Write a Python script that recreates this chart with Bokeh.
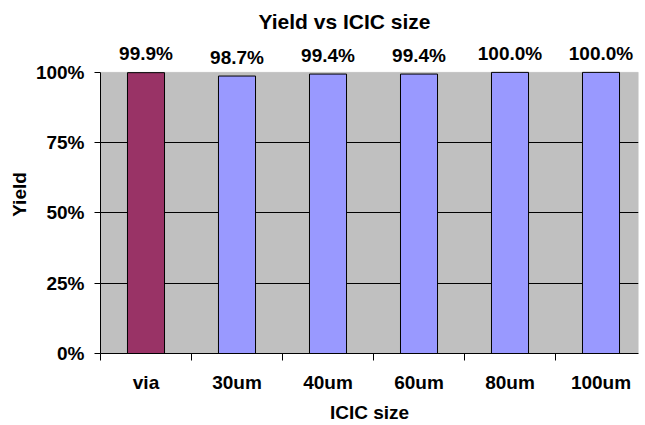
from bokeh.plotting import figure
from bokeh.models import ColumnDataSource, FixedTicker, NumeralTickFormatter, Range1d, BoxAnnotation
from bokeh.core.properties import value
from bokeh.embed import file_html
from bokeh.resources import INLINE

categories = ["via", "30um", "40um", "60um", "80um", "100um"]
yields = [0.999, 0.987, 0.994, 0.994, 1.000, 1.000]
labels = ["99.9%", "98.7%", "99.4%", "99.4%", "100.0%", "100.0%"]
colors = ["#993366", "#9999FF", "#9999FF", "#9999FF", "#9999FF", "#9999FF"]
y_ticks = [0, 0.25, 0.5, 0.75, 1.0]

FONT = "Liberation Sans"
xs = list(range(len(categories)))
src = ColumnDataSource(dict(x=xs, y=yields, lab=labels, color=colors))

# frame: x 100..638, y 35..354 (0% at 354, 100% at 72)
p = figure(width=645, height=425, output_backend="svg", toolbar_location=None,
           x_range=Range1d(-0.5, 5.412), y_range=Range1d(0, 1.1312),
           min_border_left=100, min_border_right=7, min_border_top=35, min_border_bottom=71)
p.background_fill_color = "white"
p.border_fill_color = "white"
p.outline_line_color = None

p.title.text = "Yield vs ICIC size"
p.title.align = "left"
p.title.offset = 158
p.title.standoff = 5
p.title.text_font = FONT
p.title.text_font_size = "21px"
p.title.text_font_style = "bold"
p.title.text_color = "black"

p.add_layout(BoxAnnotation(bottom=0, top=1, fill_color="#C0C0C0", fill_alpha=1,
                           line_color="#808080", line_width=1, level="image"))

p.vbar(x="x", top="y", bottom=0, width=0.407, fill_color="color", line_color="black", line_width=1, source=src)

p.text(x="x", y="y", text="lab", source=src, text_align="center", text_baseline="alphabetic",
       y_offset=-19, text_font=value(FONT), text_font_size="19px", text_font_style="bold", text_color="black")

p.xaxis.ticker = FixedTicker(ticks=xs, minor_ticks=[i - 0.5 for i in range(len(categories) + 1)])
p.xaxis.major_label_overrides = {i: c for i, c in enumerate(categories)}
p.xaxis.major_tick_line_color = None
p.xaxis.minor_tick_line_color = "black"
p.xaxis.minor_tick_out = 7
p.xaxis.minor_tick_in = 0
p.xaxis.major_label_standoff = 11
p.xaxis.axis_label = "ICIC size"
p.xaxis.axis_label_standoff = 6

p.yaxis.ticker = FixedTicker(ticks=y_ticks)
p.yaxis.bounds = (0, 1)
p.yaxis.formatter = NumeralTickFormatter(format="0%")
p.yaxis.major_tick_out = 6
p.yaxis.major_tick_in = 0
p.yaxis.minor_tick_line_color = None
p.yaxis.major_label_standoff = 10
p.yaxis.axis_label = "Yield"
p.yaxis.axis_label_standoff = 3

for ax in (p.xaxis, p.yaxis):
    ax.axis_line_color = "black"
    ax.major_label_text_font = FONT
    ax.major_label_text_font_size = "19px"
    ax.major_label_text_font_style = "bold"
    ax.major_label_text_color = "black"
    ax.axis_label_text_font = FONT
    ax.axis_label_text_font_size = "19px"
    ax.axis_label_text_font_style = "bold"
    ax.axis_label_text_color = "black"

p.xgrid.grid_line_color = None
p.ygrid.ticker = FixedTicker(ticks=[0.25, 0.5, 0.75])
p.ygrid.grid_line_color = "black"
p.ygrid.grid_line_width = 1

open("out.html", "w").write(file_html(p, INLINE))
